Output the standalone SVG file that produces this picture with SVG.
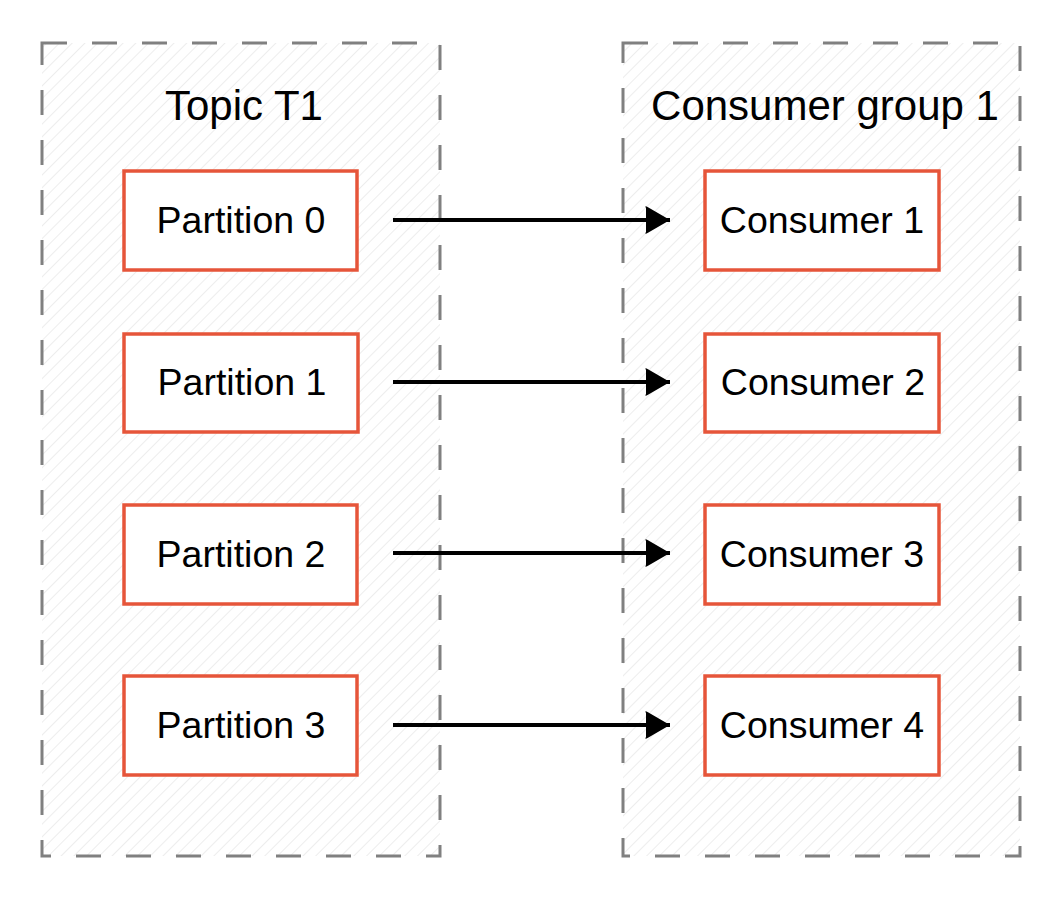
<svg xmlns="http://www.w3.org/2000/svg" width="1064" height="900" viewBox="0 0 1064 900">
<style>
.grp{fill:url(#hatch);stroke:#808080;stroke-width:3;stroke-dasharray:25 25}
.box{fill:#ffffff;stroke:#e6553a;stroke-width:3.5}
.lbl{font-family:"Liberation Sans",Arial,sans-serif;font-size:37.5px;fill:#000;text-anchor:middle}
.title{font-family:"Liberation Sans",Arial,sans-serif;font-size:42px;fill:#000;text-anchor:middle}
.conn{stroke:#000;stroke-width:4;fill:none;marker-end:url(#arr)}
</style>
<defs>
<pattern id="hatch" patternUnits="userSpaceOnUse" width="9" height="9" patternTransform="rotate(45)">
<rect width="9" height="9" fill="#ffffff"/>
<line x1="0" y1="0" x2="0" y2="9" stroke="#e8e8e8" stroke-width="1.5"/>
</pattern>
<marker id="arr" markerWidth="8" markerHeight="8" refX="7" refY="4" orient="auto" markerUnits="strokeWidth">
<path d="M1,1 Q0.5,0.3 1.5,0.8 L7,4 L1.5,7.2 Q0.5,7.7 1,7 Z" fill="#000"/>
</marker>
</defs>
<rect width="1064" height="900" fill="#ffffff"/>
<g id="topic">
<rect class="grp" x="42" y="43" width="398" height="813"/>
<text class="title" x="244" y="120">Topic T1</text>
</g>
<g id="group">
<rect class="grp" x="623" y="43" width="397" height="813"/>
<text class="title" x="825" y="120">Consumer group 1</text>
</g>
<g id="p0"><rect class="box" x="124" y="171" width="233" height="99"/><text class="lbl" x="241" y="233">Partition 0</text></g>
<g id="p1"><rect class="box" x="124" y="334" width="234" height="98"/><text class="lbl" x="242" y="395">Partition 1</text></g>
<g id="p2"><rect class="box" x="124" y="505" width="233" height="99"/><text class="lbl" x="241" y="567">Partition 2</text></g>
<g id="p3"><rect class="box" x="124" y="676" width="233" height="99"/><text class="lbl" x="241" y="738">Partition 3</text></g>
<g id="c1"><rect class="box" x="705" y="171" width="234" height="99"/><text class="lbl" x="822" y="233">Consumer 1</text></g>
<g id="c2"><rect class="box" x="705" y="334" width="234" height="98"/><text class="lbl" x="823" y="395">Consumer 2</text></g>
<g id="c3"><rect class="box" x="705" y="505" width="234" height="99"/><text class="lbl" x="822" y="567">Consumer 3</text></g>
<g id="c4"><rect class="box" x="705" y="676" width="234" height="99"/><text class="lbl" x="822" y="738">Consumer 4</text></g>
<g id="connectors">
<line class="conn" x1="393" y1="220" x2="670" y2="220"/>
<line class="conn" x1="393" y1="382" x2="670" y2="382"/>
<line class="conn" x1="393" y1="553" x2="670" y2="553"/>
<line class="conn" x1="393" y1="725" x2="670" y2="725"/>
</g>
</svg>
